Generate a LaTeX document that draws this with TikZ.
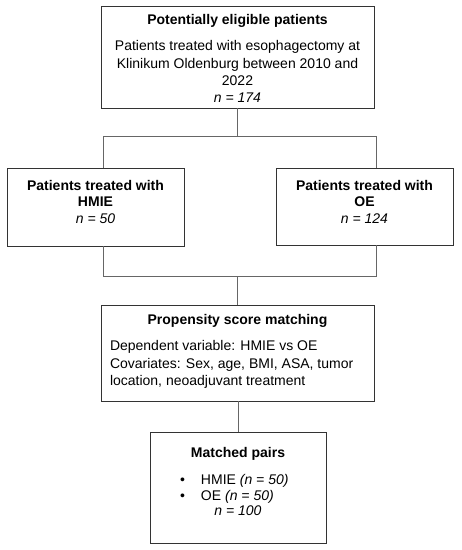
\documentclass[tikz,border=0pt]{standalone}
\usepackage{fontspec}
\setmainfont{Liberation Sans}
\usetikzlibrary{positioning,calc}

\definecolor{boxline}{gray}{0.2}
\definecolor{linkgray}{gray}{0.4}

\tikzset{
  box/.style={draw=boxline, line width=0.8pt, inner sep=0pt, fill=white},
  link/.style={draw=linkgray, line width=0.8pt},
}
% fixed size box with text from the top
\newcommand{\boxtext}[4]{\parbox[c][#2][t]{#1}{\fontsize{14}{17.3}\selectfont\vspace*{#3}#4}}

\begin{document}
\begin{tikzpicture}[x=1pt, y=-1pt]
\useasboundingbox (0,0) rectangle (462,550);

\node[box] (eligible) at (237.5,57) {\boxtext{273pt}{102pt}{8.5pt}{\centering
  \textbf{Potentially eligible patients}\\[9pt]
  Patients treated with esophagectomy at\\
  Klinikum Oldenburg between 2010 and\\
  2022\\
  \textit{n = 174}}};
\node[box] (hmie) at (95.5,207) {\boxtext{177pt}{78pt}{12pt}{\centering\baselineskip=16.5pt
  \textbf{Patients treated with}\\
  \textbf{HMIE}\\
  \textit{n = 50}}};
\node[box] (oe) at (364.5,206.5) {\boxtext{177pt}{77pt}{12pt}{\centering\baselineskip=16.5pt
  \textbf{Patients treated with}\\
  \textbf{OE}\\
  \textit{n = 124}}};
\node[box] (psm) at (237.5,353) {\boxtext{273pt}{96pt}{9pt}{\centering
  \textbf{Propensity score matching}\par\vspace{9.5pt}
  \raggedright\leftskip=9pt
  Dependent variable: HMIE vs OE\\
  Covariates: Sex, age, BMI, ASA, tumor\\
  location, neoadjuvant treatment\par}};
\node[box] (matched) at (238,487.5) {\boxtext{176pt}{111pt}{15pt}{\centering
  \textbf{Matched pairs}\par\vspace{11.5pt}
  {\raggedright\leftskip=30pt\baselineskip=16pt
  \makebox[21pt][l]{\textbullet}HMIE \textit{(n = 50)}\\
  \makebox[21pt][l]{\textbullet}OE \textit{(n = 50)}\par}
  \baselineskip=15pt\centering\textit{n = 100}\par}};

% split into the two groups
\coordinate (forkL) at (103,136);
\coordinate (forkR) at (376,136);
\draw[link] (eligible.south) -- (eligible.south |- forkL);
\draw[link] (hmie.north -| forkL) -- (forkL) -- (forkR) -- (oe.north -| forkR);

% join again
\coordinate (joinL) at (103,276);
\coordinate (joinR) at (376,276);
\draw[link] (hmie.south -| joinL) -- (joinL) -- (joinR) -- (oe.south -| joinR);
\draw[link] (psm.north |- joinL) -- (psm.north);
\draw[link] (psm.south) -- (psm.south -| matched.north) -- (matched.north);
\end{tikzpicture}
\end{document}
